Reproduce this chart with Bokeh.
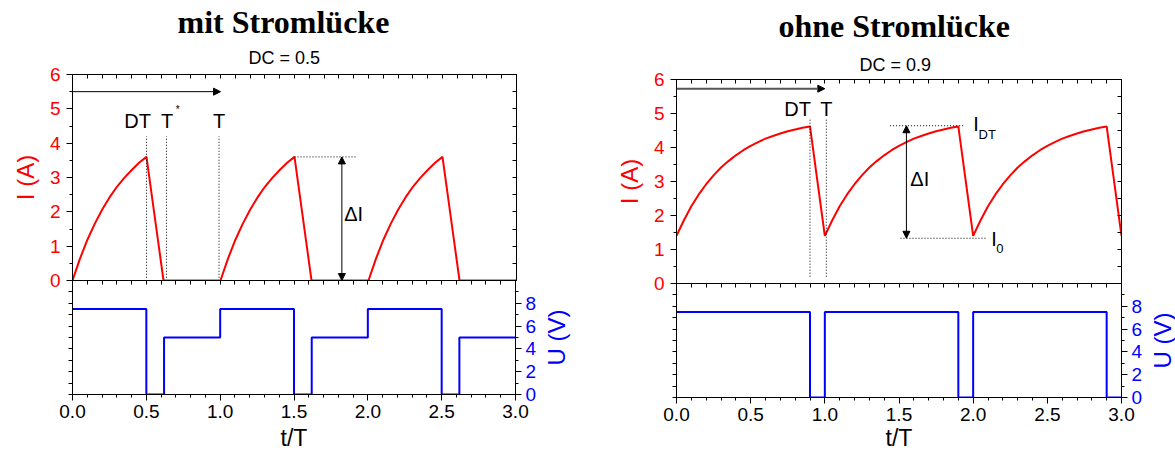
import math
from bokeh.plotting import figure
from bokeh.models import (Range1d, LinearAxis, FixedTicker, Title, Label, Arrow,
                          NormalHead, PrintfTickFormatter)
from bokeh.layouts import row, column
from bokeh.embed import file_html
from bokeh.resources import INLINE

# ---------------- data ----------------
n_periods = 3

# left chart: DC = 0.5 (with current gap), one period of inductor current
left_t = [0.0, 0.05, 0.10, 0.15, 0.20, 0.25, 0.30, 0.35, 0.40, 0.45, 0.50, 0.615, 1.0]
left_i = [0.0, 0.63, 1.18, 1.65, 2.06, 2.42, 2.73, 2.99, 3.22, 3.43, 3.60, 0.0, 0.0]
left_u_edges = [0.0, 0.5, 0.62]
left_u_levels = [7.5, 0.0, 5.0]

# right chart: DC = 0.9 (no current gap)
right_t = [0.0, 0.05, 0.10, 0.15, 0.20, 0.25, 0.30, 0.35, 0.40, 0.45, 0.50,
           0.55, 0.60, 0.65, 0.70, 0.75, 0.80, 0.85, 0.90, 1.0]
right_i = [1.40, 1.86, 2.27, 2.62, 2.92, 3.18, 3.41, 3.60, 3.77, 3.92, 4.05,
           4.16, 4.26, 4.34, 4.41, 4.48, 4.53, 4.58, 4.62, 1.40]
right_u_edges = [0.0, 0.9]
right_u_levels = [7.5, 0.0]

x_major = [0.0, 0.5, 1.0, 1.5, 2.0, 2.5, 3.0]
x_minor = [round(0.1 * k, 1) for k in range(31)]
i_major = [0, 1, 2, 3, 4, 5, 6]
i_minor = [0.5, 1.5, 2.5, 3.5, 4.5, 5.5]
i_all = [0.5 * k for k in range(13)]
u_major = [0, 2, 4, 6, 8]
u_minor = [1, 3, 5, 7, 9]
u_all = list(range(10))

titles = ["mit Stromlücke", "ohne Stromlücke"]
subtitles = ["DC = 0.5", "DC = 0.9"]
x_label = "t/T"
i_label = "I (A)"
u_label = "U (V)"

# annotation values (data units)
left_marks_x = [0.5, 0.635, 0.99]
left_marks_y = [0.08, 4.2]
left_peak_line_x = [1.5, 1.925]
left_peak = 3.6
left_delta_x = 1.82
left_arrow_y = 5.5

right_marks_x = [0.9, 1.01]
right_marks_y = [0.2, 4.84]
right_idt_line_x = [1.44, 1.94]
right_i0_line_x = [1.51, 2.085]
right_idt = 4.64
right_i0 = 1.33
right_delta_x = 1.55
right_arrow_y = 5.73

FONT = "Liberation Sans"
RED = "#ff0000"
BLUE = "#0000ff"
EXTRA = 12  # px of the top canvas that the lower canvases overlap


def periodic(t, y):
    xs, ys = [], []
    for k in range(n_periods):
        xs += [v + k for v in t]
        ys += list(y)
    return xs, ys


def periodic_steps(edges, levels):
    xs, ys = [], []
    for k in range(n_periods):
        xs += [e + k for e in edges]
        ys += list(levels)
    xs.append(float(n_periods))
    ys.append(levels[-1])
    return xs, ys


def style_axis(ax, ticks, minor, t_in, t_out, m_in, m_out, label_color="black",
               font_size="19px"):
    ax.ticker = FixedTicker(ticks=ticks, minor_ticks=minor)
    ax.major_tick_in = t_in
    ax.major_tick_out = t_out
    ax.minor_tick_in = m_in
    ax.minor_tick_out = m_out
    ax.axis_line_color = "black"
    ax.major_tick_line_color = "black"
    ax.minor_tick_line_color = "black"
    ax.major_label_text_font = FONT
    ax.major_label_text_color = label_color
    ax.major_label_text_font_size = font_size


def axis_title(ax, s, color, standoff, size="24px"):
    ax.axis_label = s
    ax.axis_label_text_color = color
    ax.axis_label_text_font = FONT
    ax.axis_label_text_font_style = "normal"
    ax.axis_label_text_font_size = size
    ax.axis_label_standoff = standoff


def tick_only_axis(ticks, t_in, t_out):
    ax = LinearAxis()
    style_axis(ax, [], ticks, 0, 0, t_in, t_out)
    ax.major_label_standoff = 0
    return ax


def text(p, s, x, y, size="20px", color="black", align="center"):
    p.add_layout(Label(x=x, y=y, text=s, text_font=FONT, text_font_size=size,
                       text_color=color, text_align=align, text_baseline="middle"))


def make_chart(idx, t, i, u_edges, u_levels, top_h, bot_h, b_left, b_right, b_top, b_bot,
               width, bot_right, title_offset, title_standoff, xlab_standoff):
    xr = Range1d(0, 3)
    top = figure(width=width, height=top_h + EXTRA, x_range=xr, y_range=Range1d(0, 6),
                 x_axis_location=None, y_axis_location="left",
                 toolbar_location=None, output_backend="svg",
                 min_border_left=b_left, min_border_right=b_right,
                 min_border_top=b_top, min_border_bottom=EXTRA)
    top.grid.visible = False
    top.outline_line_color = "black"
    top.outline_line_alpha = 1.0
    style_axis(top.yaxis[0], i_major, i_minor, 0, 6, 0, 3, label_color=RED)
    top.yaxis[0].major_label_standoff = 6
    axis_title(top.yaxis[0], i_label, RED, 8)
    top.add_layout(tick_only_axis(x_minor, 4, 0), "above")
    top.add_layout(tick_only_axis(i_all, 4, 0), "right")

    top.add_layout(Title(text=subtitles[idx], align="left", text_font=FONT,
                         text_font_style="normal", text_font_size="18px",
                         text_color="black", offset=title_offset[1],
                         standoff=title_standoff[1]), "above")
    top.add_layout(Title(text=titles[idx], align="left", text_font="Liberation Serif",
                         text_font_style="bold", text_font_size="32px",
                         text_color="black", offset=title_offset[0],
                         standoff=title_standoff[0]), "above")

    xs, ys = periodic(t, i)
    top.line(xs, ys, line_color=RED, line_width=2)

    # lower panel (voltage)
    bot_w = b_left + (width - b_left - b_right) + bot_right
    bot = figure(width=bot_w, height=bot_h, x_range=xr, y_range=Range1d(0, 10),
                 x_axis_location="below", y_axis_location="right",
                 toolbar_location=None, output_backend="svg",
                 min_border_left=b_left, min_border_right=bot_right,
                 min_border_top=0, min_border_bottom=b_bot)
    bot.margin = (-EXTRA, 0, 0, 0)
    bot.border_fill_alpha = 0
    bot.background_fill_alpha = 0
    bot.grid.visible = False
    bot.outline_line_color = "black"
    bot.outline_line_alpha = 1.0
    style_axis(bot.xaxis[0], x_major, x_minor, 0, 6, 0, 3)
    bot.xaxis[0].formatter = PrintfTickFormatter(format="%.1f")
    bot.xaxis[0].major_label_standoff = 4
    axis_title(bot.xaxis[0], x_label, "black", xlab_standoff, size="23px")
    style_axis(bot.yaxis[0], u_major, u_minor, 0, 6, 0, 3, label_color=BLUE)
    bot.yaxis[0].major_label_standoff = 4
    bot.add_layout(tick_only_axis(u_all, 0, 4), "left")
    bot.add_layout(tick_only_axis(x_minor, 4, 0), "above")

    sx, sy = periodic_steps(u_edges, u_levels)
    bot.step(sx, sy, mode="after", line_color=BLUE, line_width=2)

    # strip carrying the U axis title (reads bottom-to-top like a left axis title)
    ulab = figure(width=width - bot_w, height=bot_h, x_range=Range1d(0, 1),
                  y_range=Range1d(0, 10), x_axis_location=None, y_axis_location="left",
                  toolbar_location=None, output_backend="svg",
                  min_border_left=0, min_border_right=0, min_border_top=0,
                  min_border_bottom=b_bot)
    ulab.margin = (-EXTRA, 0, 0, 0)
    ulab.border_fill_alpha = 0
    ulab.background_fill_alpha = 0
    ulab.grid.visible = False
    ulab.outline_line_color = None
    uax = ulab.yaxis[0]
    uax.ticker = FixedTicker(ticks=[], minor_ticks=[])
    uax.axis_line_color = None
    uax.major_tick_line_color = None
    uax.minor_tick_line_color = None
    uax.major_tick_out = 0
    uax.minor_tick_out = 0
    uax.major_label_standoff = 0
    axis_title(uax, u_label, BLUE, 0)
    return top, bot, ulab


# ---------- left chart ----------
tl, bl, ul = make_chart(0, left_t, left_i, left_u_edges, left_u_levels,
                        280, 173, 72, 84, 74, 59, 600, 23, (105, 176), (0, 13), 4)
for xv in left_marks_x:
    tl.line([xv, xv], left_marks_y, line_color="black", line_width=1, line_dash="1 2")
tl.line(left_peak_line_x, [left_peak, left_peak], line_color="black", line_width=1,
        line_dash="1 2")
tl.add_layout(Arrow(end=NormalHead(size=7, fill_color="black", line_color="black"),
                    x_start=0.0, y_start=left_arrow_y, x_end=1.0, y_end=left_arrow_y,
                    line_color="black", line_width=1))
tl.add_layout(Arrow(start=NormalHead(size=7, fill_color="black", line_color="black"),
                    end=NormalHead(size=7, fill_color="black", line_color="black"),
                    x_start=left_delta_x, y_start=left_peak, x_end=left_delta_x, y_end=0.0,
                    line_color="black", line_width=1))
text(tl, "DT", 0.44, 4.64)
text(tl, "T", 0.64, 4.64)
text(tl, "*", 0.71, 4.98, size="10px")
text(tl, "T", 0.99, 4.64)
text(tl, "ΔI", 1.9, 1.94)

# ---------- right chart ----------
tr, br, ur = make_chart(1, right_t, right_i, right_u_edges, right_u_levels,
                        283, 170, 76, 54, 79, 56, 575, 24, (102, 183), (8, 10), 1)
for xv in right_marks_x:
    tr.line([xv, xv], right_marks_y, line_color="black", line_width=1, line_dash="1 2")
tr.line(right_idt_line_x, [right_idt, right_idt], line_color="black", line_width=1,
        line_dash="1 2")
tr.line(right_i0_line_x, [right_i0, right_i0], line_color="black", line_width=1,
        line_dash="1 2")
tr.add_layout(Arrow(end=NormalHead(size=7, fill_color="black", line_color="black"),
                    x_start=0.0, y_start=right_arrow_y, x_end=1.0, y_end=right_arrow_y,
                    line_color="#555555", line_width=2))
tr.add_layout(Arrow(start=NormalHead(size=7, fill_color="black", line_color="black"),
                    end=NormalHead(size=7, fill_color="black", line_color="black"),
                    x_start=right_delta_x, y_start=right_idt, x_end=right_delta_x,
                    y_end=right_i0, line_color="black", line_width=1))
text(tr, "DT", 0.816, 5.12)
text(tr, "T", 1.01, 5.12)
text(tr, "I", 2.02, 4.7)
text(tr, "DT", 2.095, 4.38, size="13px")
text(tr, "I", 2.14, 1.31)
text(tr, "0", 2.18, 1.02, size="13px")
text(tr, "ΔI", 1.64, 3.07)

layout = row(column(tl, row(bl, ul)), column(tr, row(br, ur)))
open("out.html", "w").write(file_html(layout, INLINE))
